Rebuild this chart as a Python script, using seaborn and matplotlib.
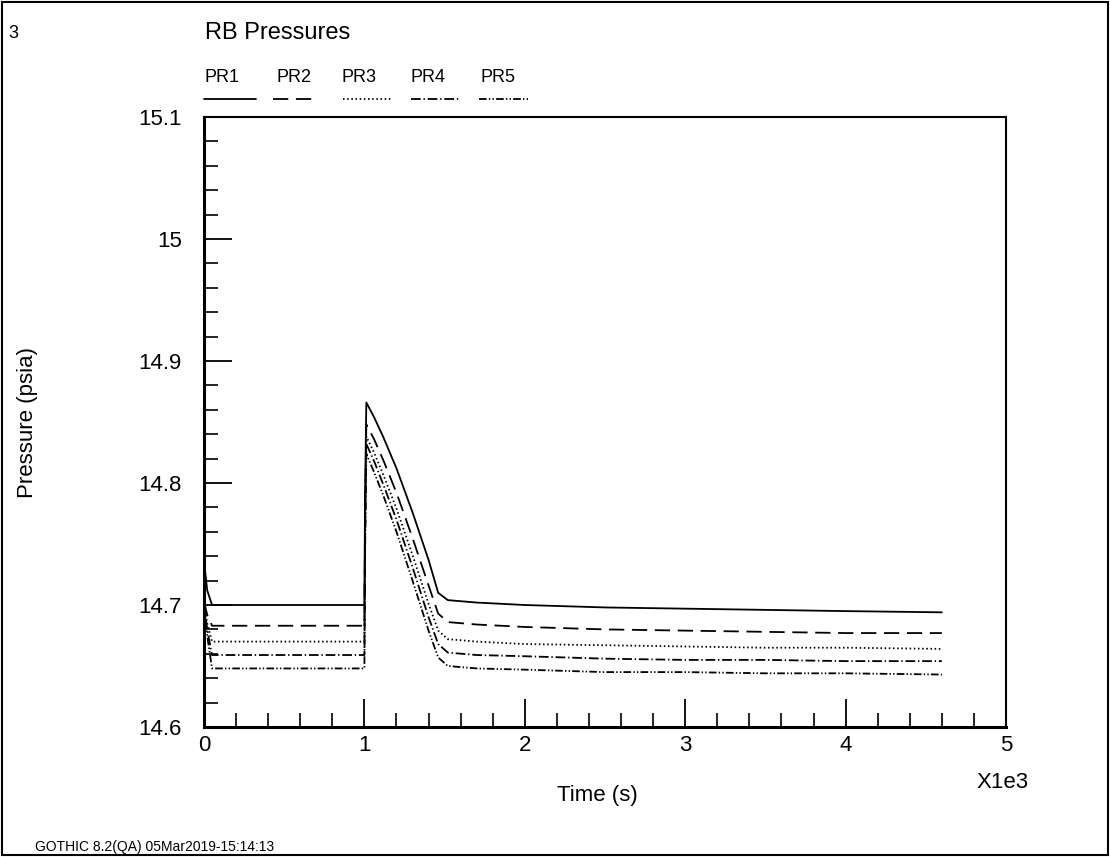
import matplotlib
matplotlib.use("Agg")
import matplotlib.pyplot as plt
import seaborn as sns
import pandas as pd
from matplotlib.lines import Line2D
from matplotlib.patches import Rectangle
from matplotlib.ticker import MultipleLocator, FixedLocator, FixedFormatter

# ---------------- data ----------------
time_s = [0, 20, 50, 1000, 1004, 1012, 1060, 1120, 1200, 1300, 1400, 1460, 1520,
          1700, 2000, 2500, 3000, 3500, 4000, 4600]
pr1 = [14.736, 14.712, 14.700, 14.700, 14.790, 14.866, 14.854, 14.837, 14.812,
       14.776, 14.737, 14.710, 14.704, 14.702, 14.700, 14.698, 14.697, 14.696,
       14.695, 14.694]
pr2 = [14.703, 14.692, 14.683, 14.683, 14.770, 14.848, 14.836, 14.818, 14.792,
       14.755, 14.716, 14.693, 14.686, 14.684, 14.682, 14.680, 14.679, 14.678,
       14.677, 14.677]
pr3 = [14.702, 14.685, 14.670, 14.670, 14.760, 14.838, 14.825, 14.806, 14.779,
       14.741, 14.701, 14.679, 14.672, 14.670, 14.668, 14.667, 14.666, 14.665,
       14.665, 14.664]
pr4 = [14.702, 14.680, 14.659, 14.659, 14.750, 14.832, 14.818, 14.798, 14.770,
       14.731, 14.690, 14.668, 14.661, 14.659, 14.658, 14.656, 14.655, 14.655,
       14.654, 14.654]
pr5 = [14.701, 14.675, 14.648, 14.648, 14.740, 14.824, 14.809, 14.789, 14.760,
       14.720, 14.679, 14.657, 14.650, 14.648, 14.647, 14.645, 14.645, 14.644,
       14.644, 14.643]
series_names = ["PR1", "PR2", "PR3", "PR4", "PR5"]
x_ticks = [0, 1, 2, 3, 4, 5]
x_tick_labels = ["0", "1", "2", "3", "4", "5"]
y_ticks = [14.6, 14.7, 14.8, 14.9, 15.0, 15.1]
y_tick_labels = ["14.6", "14.7", "14.8", "14.9", "15", "15.1"]

# ---------------- style ----------------
sns.set_theme(style="white")
plt.rcParams["font.family"] = ["Liberation Sans", "DejaVu Sans"]
plt.rcParams["lines.scale_dashes"] = False
plt.rcParams["text.color"] = "black"
plt.rcParams["axes.labelcolor"] = "black"
plt.rcParams["xtick.color"] = "black"
plt.rcParams["ytick.color"] = "black"

W, H = 1110, 857
fig = plt.figure(figsize=(W / 100, H / 100), dpi=100)
fig.patch.set_facecolor("white")

def fx(px):
    return px / W

def fy(py):
    return 1 - py / H

ax_l, ax_r, ax_t, ax_b = 204, 1006, 117, 727
ax = fig.add_axes([fx(ax_l), fy(ax_b), fx(ax_r - ax_l), (ax_b - ax_t) / H])

styles = [
    "-",
    (0, (11, 5.5)),
    (0, (1.1, 1.9)),
    (0, (7, 2, 1, 2)),
    (0, (5.5, 1.6, 1, 1.6, 1, 1.6)),
]

records = []
for name, vals in zip(series_names, [pr1, pr2, pr3, pr4, pr5]):
    for t, v in zip(time_s, vals):
        records.append({"series": name, "t": t / 1000.0, "p": v})
df = pd.DataFrame(records)

for name, ls in zip(series_names, styles):
    sub = df[df["series"] == name]
    sns.lineplot(data=sub, x="t", y="p", ax=ax, color="black", linewidth=1.3,
                 linestyle=ls, sort=False, estimator=None, legend=False)

ax.set_xlim(0, 5)
ax.set_ylim(14.6, 15.1)
ax.xaxis.set_major_locator(FixedLocator(x_ticks))
ax.xaxis.set_major_formatter(FixedFormatter(x_tick_labels))
ax.yaxis.set_major_locator(FixedLocator(y_ticks))
ax.yaxis.set_major_formatter(FixedFormatter(y_tick_labels))
ax.xaxis.set_minor_locator(MultipleLocator(0.2))
ax.yaxis.set_minor_locator(MultipleLocator(0.02))
ax.tick_params(axis="both", which="both", bottom=True, left=True, top=False,
               right=False, direction="in", colors="black")
ax.tick_params(axis="both", which="major", length=20, width=1.3, labelsize=16)
ax.tick_params(axis="x", which="major", pad=6)
ax.tick_params(axis="y", which="major", pad=16)
ax.tick_params(axis="both", which="minor", length=10, width=1.2)
ax.set_xlabel("")
ax.set_ylabel("")
for sp in ax.spines.values():
    sp.set_color("black")
    sp.set_linewidth(1.5)
ax.spines["left"].set_linewidth(2.2)
ax.spines["bottom"].set_linewidth(2.2)
ax.set_facecolor("white")
ax.grid(False)

# ---------------- texts ----------------
fig.text(fx(8), fy(33), "3", fontsize=13, ha="left", va="center")
fig.text(fx(205), fy(33), "RB Pressures", fontsize=17, ha="left", va="center")
leg_x = [204, 276, 341, 411, 481]
leg_lines = [(204, 256), (273, 316), (343, 391), (411, 461), (479, 528)]
for name, lx, (x0, x1), ls in zip(series_names, leg_x, leg_lines, styles):
    fig.text(fx(lx), fy(77), name, fontsize=13, ha="left", va="center")
    fig.add_artist(Line2D([fx(x0), fx(x1)], [fy(99), fy(99)], color="black",
                          linewidth=1.3, linestyle=ls, transform=fig.transFigure))

fig.text(fx(28), fy(422), "Pressure (psia)", fontsize=16, rotation=90,
         ha="center", va="center")
fig.text(fx(597), fy(795), "Time (s)", fontsize=16, ha="center", va="center")
fig.text(fx(1003), fy(783), "X1e3", fontsize=16, ha="center", va="center")
fig.text(fx(35), fy(847), "GOTHIC 8.2(QA) 05Mar2019-15:14:13", fontsize=10,
         ha="left", va="center")

fig.add_artist(Rectangle((fx(2), fy(855)), fx(1106), (853) / H, fill=False,
                         edgecolor="black", linewidth=1.5,
                         transform=fig.transFigure))

fig.savefig("out.png", dpi=100, facecolor="white")
